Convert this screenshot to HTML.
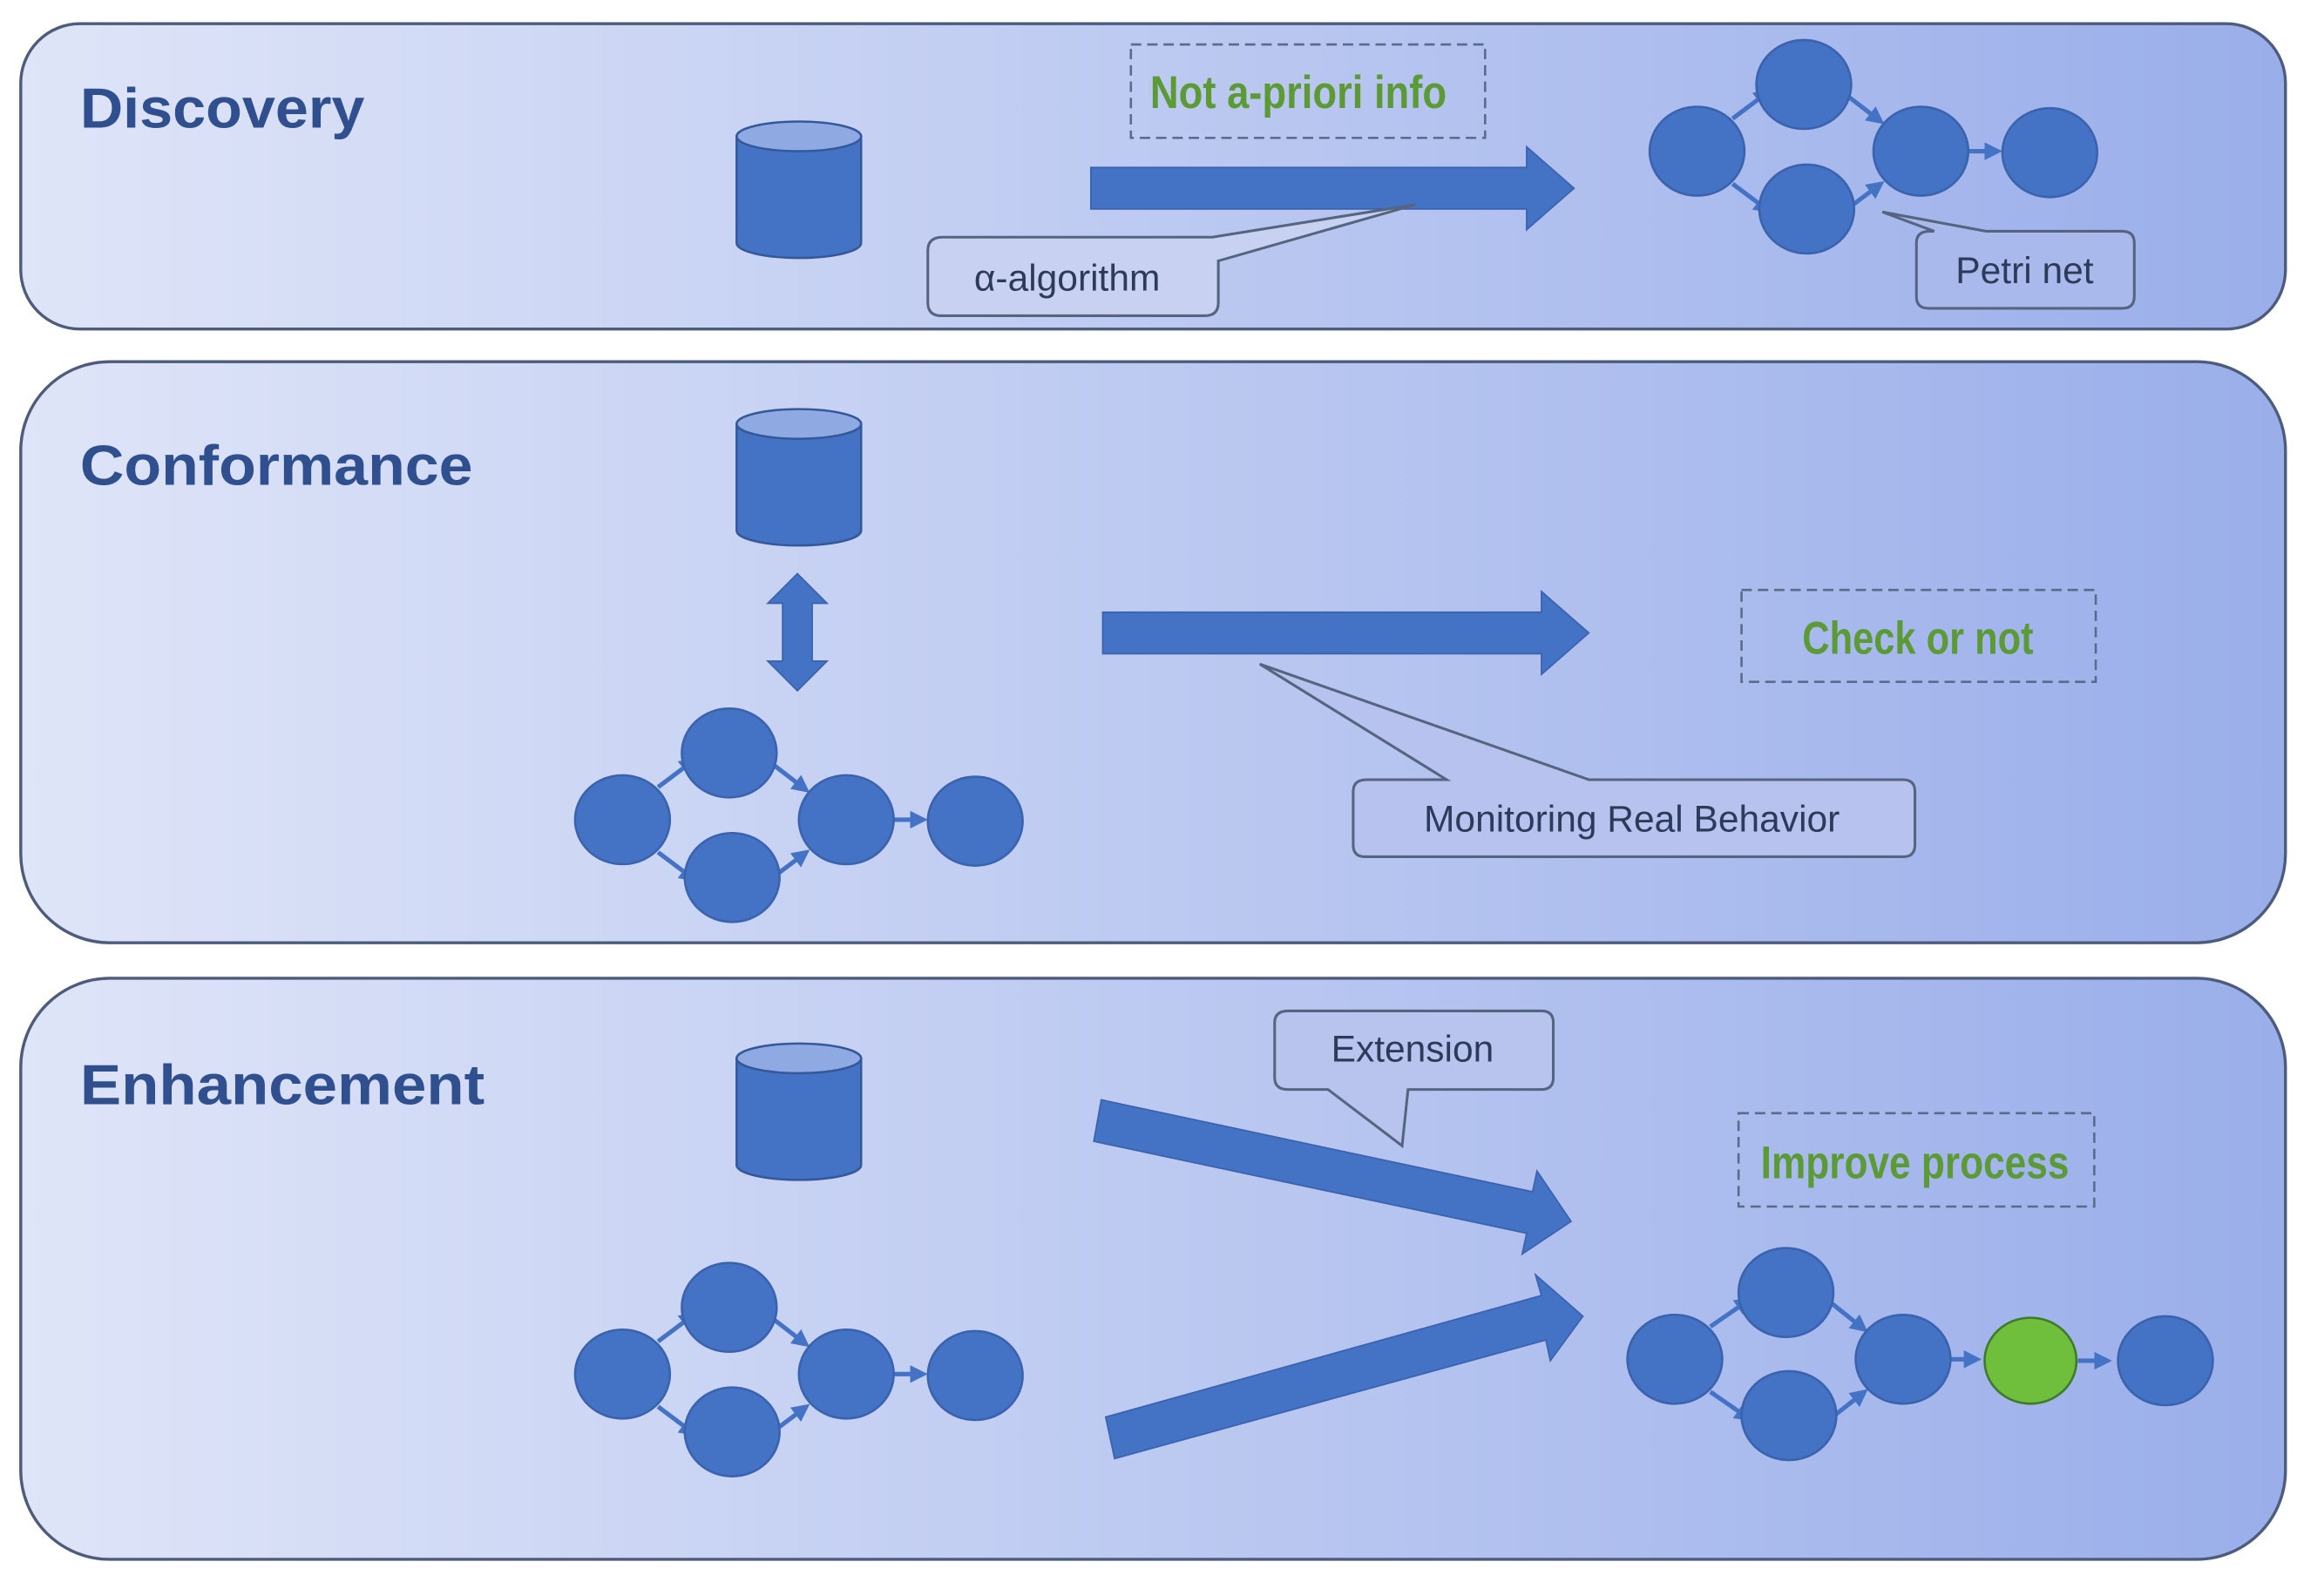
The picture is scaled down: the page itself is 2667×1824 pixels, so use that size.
<!DOCTYPE html><html><head><style>html,body{margin:0;padding:0;background:#fff}svg{display:block}</style></head><body>
<svg width="2667" height="1824" viewBox="0 0 1568 1072" preserveAspectRatio="none" xmlns="http://www.w3.org/2000/svg" font-family="Liberation Sans, sans-serif">
<defs>
<linearGradient id="g" x1="0" x2="1" y1="0" y2="0"><stop offset="0" stop-color="#dfe5f8"/><stop offset="1" stop-color="#9aaeea"/></linearGradient>
<g id="cyl"><path d="M-42 0 V72 A42 10 0 0 0 42 72 V0 Z" fill="#4472c4" stroke="#35589a" stroke-width="1.5"/><ellipse cx="0" cy="0" rx="42" ry="10" fill="#8faae2" stroke="#35589a" stroke-width="1.5"/></g>
<marker id="ah" markerWidth="4" markerHeight="4" refX="3" refY="2" orient="auto" markerUnits="strokeWidth"><path d="M0 0 L4 2 L0 4Z" fill="#4472c4"/></marker>
<g id="pn">
<g stroke="#4472c4" stroke-width="3" marker-end="url(#ah)">
<line x1="24" y1="-22" x2="48" y2="-40"/><line x1="24" y1="22" x2="48" y2="40"/>
<line x1="98" y1="-40" x2="124" y2="-20"/><line x1="100" y1="40" x2="124" y2="22"/>
<line x1="183" y1="0" x2="203" y2="0"/></g>
<g fill="#4472c4" stroke="#3a62ad" stroke-width="1.5">
<ellipse cx="0" cy="0" rx="32" ry="30"/><ellipse cx="72" cy="-45" rx="32" ry="30"/><ellipse cx="74" cy="39" rx="32" ry="30"/><ellipse cx="151" cy="0" rx="32" ry="30"/><ellipse cx="238" cy="1" rx="32" ry="30"/></g>
</g>
</defs>
<g stroke="#4d5c7c" stroke-width="2" fill="url(#g)">
<rect x="14" y="16" width="1528" height="206" rx="40"/>
<rect x="14" y="244" width="1528" height="392" rx="60"/>
<rect x="14" y="660" width="1528" height="392" rx="60"/>
</g>
<g font-weight="bold" font-size="38" fill="#2f4f8f">
<text x="54" y="86" textLength="192" lengthAdjust="spacingAndGlyphs">Discovery</text><text x="54" y="327" textLength="265" lengthAdjust="spacingAndGlyphs">Conformance</text><text x="54" y="745" textLength="273" lengthAdjust="spacingAndGlyphs">Enhancement</text></g>
<use href="#cyl" x="539" y="92"/><use href="#cyl" x="539" y="286"/><use href="#cyl" x="539" y="714"/>
<use href="#pn" x="1145" y="102"/><use href="#pn" x="420" y="553"/><use href="#pn" x="420" y="927"/>
<g transform="translate(1130,917)">
<g stroke="#4472c4" stroke-width="3" marker-end="url(#ah)">
<line x1="24" y1="-22" x2="50" y2="-40"/><line x1="24" y1="22" x2="50" y2="40"/>
<line x1="103" y1="-40" x2="128" y2="-20"/><line x1="105" y1="40" x2="128" y2="22"/>
<line x1="186" y1="0" x2="204" y2="0"/><line x1="272" y1="1" x2="292" y2="1"/></g>
<g fill="#4472c4" stroke="#3a62ad" stroke-width="1.5">
<ellipse cx="0" cy="0" rx="32" ry="30"/><ellipse cx="75" cy="-45" rx="32" ry="30"/><ellipse cx="77" cy="38" rx="32" ry="30"/><ellipse cx="154" cy="0" rx="32" ry="30"/><ellipse cx="240" cy="1" rx="31" ry="29" fill="#6fbf3c" stroke="#3e7a2a"/><ellipse cx="331" cy="1" rx="32" ry="30"/></g>
</g>
<g fill="#4472c4" stroke="#3a62ad" stroke-width="1">
<path d="M736 113 H1030 V99 L1062 127 L1030 155 V141 H736Z"/>
<path d="M744 413 H1040 V399 L1072 427 L1040 455 V441 H744Z"/>
<path d="M538 387 L558 407 H548 V446 H558 L538 466 L518 446 H528 V407 H518Z"/>
<path d="M743 742 L1034 804 L1037 790 L1060 824 L1027 846 L1030 832 L738 770Z"/>
<path d="M746 956 L1040 874 L1036 860 L1068 888 L1046 918 L1043 904 L752 984Z"/>
</g>
<g fill="none" stroke="#55657f" stroke-width="1.8">
<path d="M636 160 H818 L955 138 L822 176 V204 Q822 213 813 213 H635 Q626 213 626 204 V169 Q626 160 636 160Z" fill="#c8d1f1"/>
<path d="M1302 156 H1305 L1270 143 L1340 156 H1432 Q1440 156 1440 164 V200 Q1440 208 1432 208 H1301 Q1293 208 1293 200 V164 Q1293 156 1302 156Z" fill="#aab9ec"/>
<path d="M922 526 H976 L850 448 L1072 526 H1284 Q1292 526 1292 534 V570 Q1292 578 1284 578 H921 Q913 578 913 570 V534 Q913 526 922 526Z" fill="#b7c3ee"/>
<path d="M869 682 H1040 Q1048 682 1048 690 V727 Q1048 735 1040 735 H950 L946 773 L896 735 H869 Q860 735 860 727 V690 Q860 682 869 682Z" fill="#b8c4ee"/>
</g>
<g font-size="25" fill="#2d3b5a">
<text x="720" y="196" text-anchor="middle">α-algorithm</text>
<text x="1366" y="191" text-anchor="middle">Petri net</text>
<text x="1101" y="561" text-anchor="middle">Monitoring Real Behavior</text>
<text x="953" y="716" text-anchor="middle">Extension</text>
</g>
<g fill="none" stroke="#5a6a8a" stroke-width="1.5" stroke-dasharray="7,4">
<rect x="763" y="30" width="239" height="63"/><rect x="1175" y="398" width="239" height="62"/><rect x="1173" y="751" width="240" height="63"/></g>
<g font-size="31" font-weight="bold" fill="#5c9a36" text-anchor="middle" font-family="Liberation Sans Narrow, Liberation Sans, sans-serif">
<text x="876" y="73" textLength="200" lengthAdjust="spacingAndGlyphs">Not a-priori info</text>
<text x="1294" y="441" textLength="156" lengthAdjust="spacingAndGlyphs">Check or not</text>
<text x="1292" y="795" textLength="208" lengthAdjust="spacingAndGlyphs">Improve process</text>
</g>
</svg>
</body></html>
